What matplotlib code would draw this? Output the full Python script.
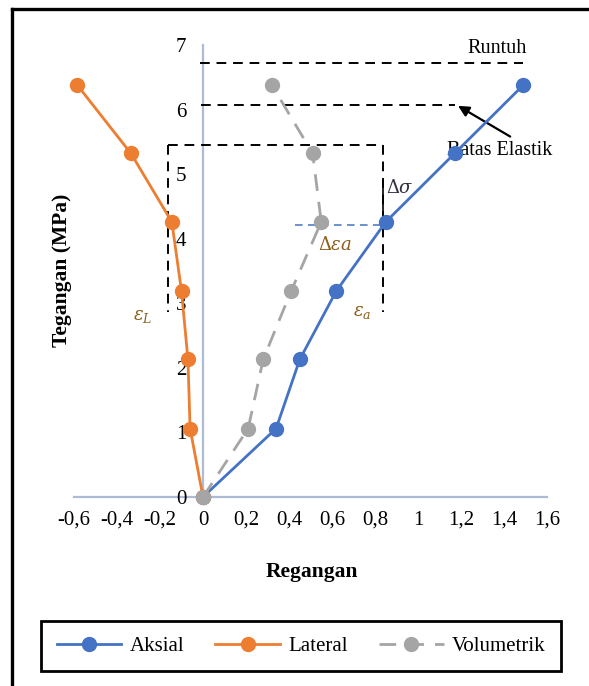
import numpy as np
import matplotlib
matplotlib.use("Agg")
import matplotlib.pyplot as plt
from matplotlib.lines import Line2D

plt.rcParams['font.family'] = ['Liberation Serif', 'DejaVu Serif']
plt.rcParams['mathtext.fontset'] = 'dejavuserif'

# stress levels (MPa), shared by all three strain series
tegangan = [0, 1.06, 2.13, 3.19, 4.26, 5.32, 6.38]
aksial = [0, 0.34, 0.45, 0.62, 0.85, 1.17, 1.49]
lateral = [0, -0.06, -0.07, -0.10, -0.145, -0.335, -0.585]
volumetrik = [0, 0.21, 0.28, 0.41, 0.55, 0.51, 0.32]

x_ticks = [-0.6, -0.4, -0.2, 0, 0.2, 0.4, 0.6, 0.8, 1.0, 1.2, 1.4, 1.6]
x_ticklabels = ['-0,6', '-0,4', '-0,2', '0', '0,2', '0,4', '0,6', '0,8', '1', '1,2', '1,4', '1,6']
y_ticks = [0, 1, 2, 3, 4, 5, 6, 7]

# guide levels
runtuh = 6.72
batas_elastik = 6.07
box_top = 5.45
box_bottom = 2.86
box_left = -0.163
box_right = 0.837
delta_level = 4.22

BLUE = '#4472C4'
ORANGE = '#ED7D31'
GRAY = '#A5A5A5'
AXIS = '#AEBBD5'
NOTE = '#8B5E1A'

fig = plt.figure(figsize=(5.89, 6.86), dpi=100)
ax = fig.add_axes([74 / 589, 1 - 497 / 686, (547 - 74) / 589, (497 - 45) / 686])

ax.plot(aksial, tegangan, color=BLUE, lw=2, marker='o', ms=10, label='Aksial',
        zorder=4, clip_on=False)
ax.plot(lateral, tegangan, color=ORANGE, lw=2, marker='o', ms=10, label='Lateral',
        zorder=4, clip_on=False)
ax.plot(volumetrik, tegangan, color=GRAY, lw=2, ls=(0, (6, 4)), marker='o', ms=10,
        label='Volumetrik', zorder=5, clip_on=False)

dash = dict(color='black', lw=1.4, ls=(0, (5, 3.5)), zorder=2)
ax.plot([-0.015, 1.49], [runtuh, runtuh], **dash)
ax.plot([-0.01, 1.17], [batas_elastik, batas_elastik], **dash)
ax.plot([box_left, box_right], [box_top, box_top], **dash)
ax.plot([box_left, box_left], [box_top, box_bottom], **dash)
ax.plot([box_right, box_right], [box_top, box_bottom], **dash)
ax.plot([box_right, box_right], [4.26, 4.9], color='black', lw=1.2, zorder=2)
ax.plot([0.43, box_right], [delta_level, delta_level], color=BLUE, lw=1.1,
        ls=(0, (5, 3.5)), zorder=2)

ax.text(1.37, 6.95, 'Runtuh', fontsize=14.5, ha='center', va='center')
ax.text(1.38, 5.37, 'Batas Elastik', fontsize=14.5, ha='center', va='center')
ax.annotate('', xy=(1.175, 6.08), xytext=(1.44, 5.56),
            arrowprops=dict(arrowstyle='-|>', color='black', lw=1.6, mutation_scale=16))

ax.text(0.85, 4.78, r'$\Delta\sigma$', fontsize=13, color='#2f2f40', ha='left', va='center')
ax.text(0.614, 3.9, r'$\Delta\varepsilon a$', fontsize=13, color=NOTE, ha='center', va='center')
ax.text(0.74, 2.86, r'$\varepsilon_a$', fontsize=13, color=NOTE, ha='center', va='center')
ax.text(-0.28, 2.8, r'$\varepsilon_L$', fontsize=13, color=NOTE, ha='center', va='center')

ax.set_xlim(-0.6, 1.6)
ax.set_ylim(0, 7)
for side in ['top', 'right']:
    ax.spines[side].set_visible(False)
ax.spines['left'].set_position(('data', 0))
ax.spines['bottom'].set_position(('data', 0))
for side in ['left', 'bottom']:
    ax.spines[side].set_color(AXIS)
    ax.spines[side].set_linewidth(1.6)
    ax.spines[side].set_zorder(1)

ax.set_xticks(x_ticks)
ax.set_xticklabels(x_ticklabels)
ax.set_yticks(y_ticks)
ax.set_yticklabels([str(v) for v in y_ticks])
ax.tick_params(axis='x', length=0, pad=10, labelsize=15)
ax.tick_params(axis='y', length=0, pad=12, labelsize=15)
ax.patch.set_visible(False)

fig.text(62 / 589, 1 - 270 / 686, 'Tegangan (MPa)', rotation=90, fontsize=15.5,
         fontweight='bold', ha='center', va='center')
fig.text(312 / 589, 1 - 572 / 686, 'Regangan', fontsize=15.5, fontweight='bold',
         ha='center', va='center')

leg = fig.legend(loc='center', bbox_to_anchor=(301 / 589, 1 - 646 / 686), ncol=3,
                 fontsize=15, frameon=True, fancybox=False, framealpha=1,
                 handlelength=3.1, columnspacing=1.5, handletextpad=0.4, borderpad=0.75)
leg.get_frame().set_edgecolor('black')
leg.get_frame().set_linewidth(2)

# outer frame (top and left edges visible)
fig.add_artist(Line2D([12 / 589, 1], [1 - 9 / 686, 1 - 9 / 686], color='black', lw=2.4,
                      transform=fig.transFigure))
fig.add_artist(Line2D([12 / 589, 12 / 589], [0, 1 - 9 / 686], color='black', lw=2.4,
                      transform=fig.transFigure))

fig.savefig('out.png', dpi=100)
